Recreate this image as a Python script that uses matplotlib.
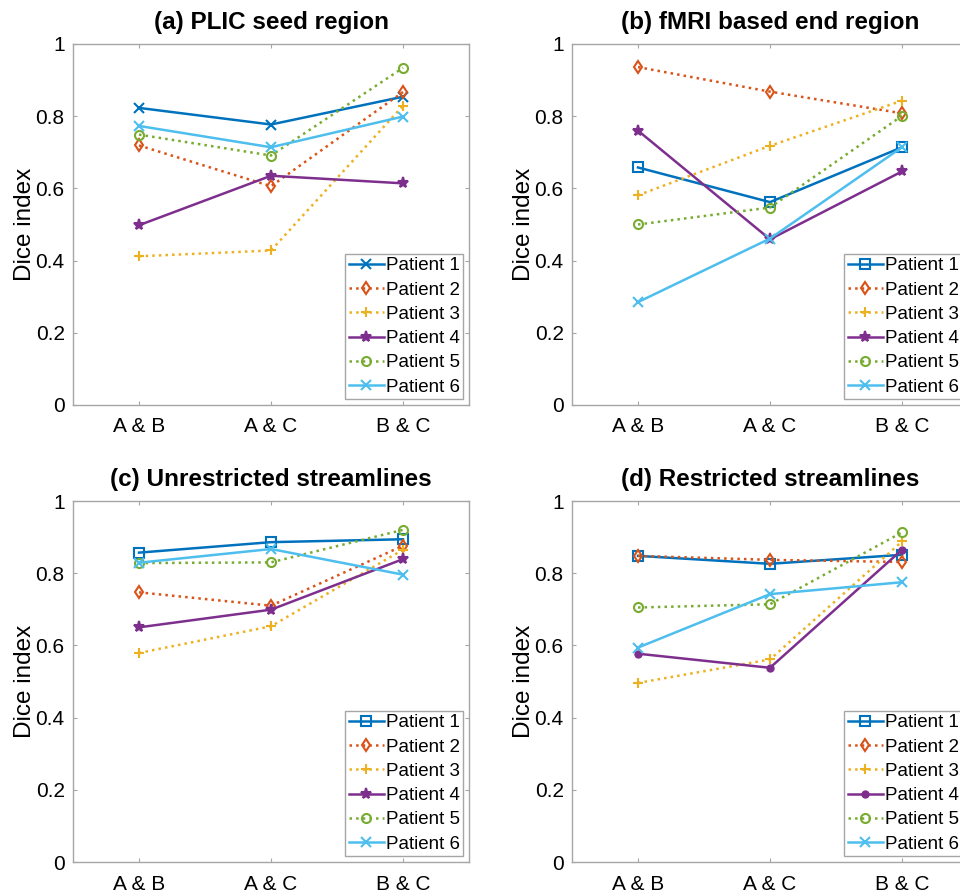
import matplotlib
matplotlib.use("Agg")
import matplotlib.pyplot as plt

plt.rcParams['font.family'] = ['Liberation Sans', 'DejaVu Sans']

categories = ["A & B", "A & C", "B & C"]
patients = ["Patient 1", "Patient 2", "Patient 3", "Patient 4", "Patient 5", "Patient 6"]
titles = ["(a) PLIC seed region", "(b) fMRI based end region",
          "(c) Unrestricted streamlines", "(d) Restricted streamlines"]

# Dice index values per panel, per patient (A&B, A&C, B&C)
plic_seed = [
    [0.823, 0.777, 0.854],
    [0.719, 0.606, 0.867],
    [0.412, 0.428, 0.829],
    [0.498, 0.635, 0.614],
    [0.749, 0.691, 0.934],
    [0.773, 0.714, 0.799],
]
fmri_end = [
    [0.658, 0.562, 0.714],
    [0.936, 0.868, 0.808],
    [0.581, 0.718, 0.843],
    [0.760, 0.459, 0.647],
    [0.500, 0.547, 0.801],
    [0.285, 0.461, 0.714],
]
unrestricted = [
    [0.857, 0.886, 0.894],
    [0.747, 0.710, 0.876],
    [0.579, 0.653, 0.865],
    [0.650, 0.699, 0.839],
    [0.828, 0.830, 0.920],
    [0.829, 0.867, 0.796],
]
restricted = [
    [0.848, 0.826, 0.851],
    [0.848, 0.837, 0.831],
    [0.496, 0.561, 0.888],
    [0.577, 0.538, 0.865],
    [0.705, 0.714, 0.913],
    [0.594, 0.742, 0.775],
]
panels = [plic_seed, fmri_end, unrestricted, restricted]

colors = ["#0072BD", "#D95319", "#EDB120", "#7E2F8E", "#77AC30", "#4DBEEE"]
styles = ["-", ":", ":", "-", ":", "-"]
markers_by_panel = [
    ["x", "d", "+", "*", "o", "x"],
    ["s", "d", "+", "*", "o", "x"],
    ["s", "d", "+", "*", "o", "x"],
    ["s", "d", "+", ".", "o", "x"],
]

W, H = 960, 893
fig = plt.figure(figsize=(W / 100, H / 100), dpi=100)

ax_w = 396 / W
ax_h = 361 / H
lefts = [73 / W, 572 / W]
bottoms = [1 - 405 / H, 1 - 862 / H]
spine_col = "#a6a6a6"

x = list(range(1, len(categories) + 1))
for i, data in enumerate(panels):
    r, c = divmod(i, 2)
    ax = fig.add_axes([lefts[c], bottoms[r], ax_w, ax_h])
    for j, vals in enumerate(data):
        m = markers_by_panel[i][j]
        ms = 6.5
        if m == "*":
            ms = 8
        if m == ".":
            ms = 9
        ax.plot(x, vals, linestyle=styles[j], color=colors[j], lw=1.8,
                marker=m, markersize=ms,
                markerfacecolor="none" if m not in ("*", ".") else colors[j],
                markeredgewidth=1.5, markeredgecolor=colors[j], label=patients[j])
    ax.set_xlim(0.5, 3.5)
    ax.set_ylim(0, 1)
    ax.set_xticks(x)
    ax.set_xticklabels(categories)
    ax.set_yticks([0, 0.2, 0.4, 0.6, 0.8, 1.0])
    ax.set_yticklabels(["0", "0.2", "0.4", "0.6", "0.8", "1"])
    ax.tick_params(direction="in", length=3, width=0.8, color=spine_col,
                   labelsize=15, top=True, right=True)
    ax.tick_params(axis="x", pad=9)
    ax.tick_params(axis="y", pad=6)
    for s in ax.spines.values():
        s.set_color(spine_col)
        s.set_linewidth(1.0)
    ax.set_ylabel("Dice index", fontsize=17.5, labelpad=0)
    ax.set_title(titles[i], fontsize=17.5, fontweight="bold", pad=11)
    leg = ax.legend(loc="lower right", fontsize=13.5, frameon=True, fancybox=False,
                    edgecolor=spine_col, framealpha=1, borderaxespad=0.3,
                    borderpad=0.2, labelspacing=0.38, handletextpad=0.1,
                    handlelength=1.85)
    leg.get_frame().set_linewidth(1.0)

fig.savefig("out.png", dpi=100)
